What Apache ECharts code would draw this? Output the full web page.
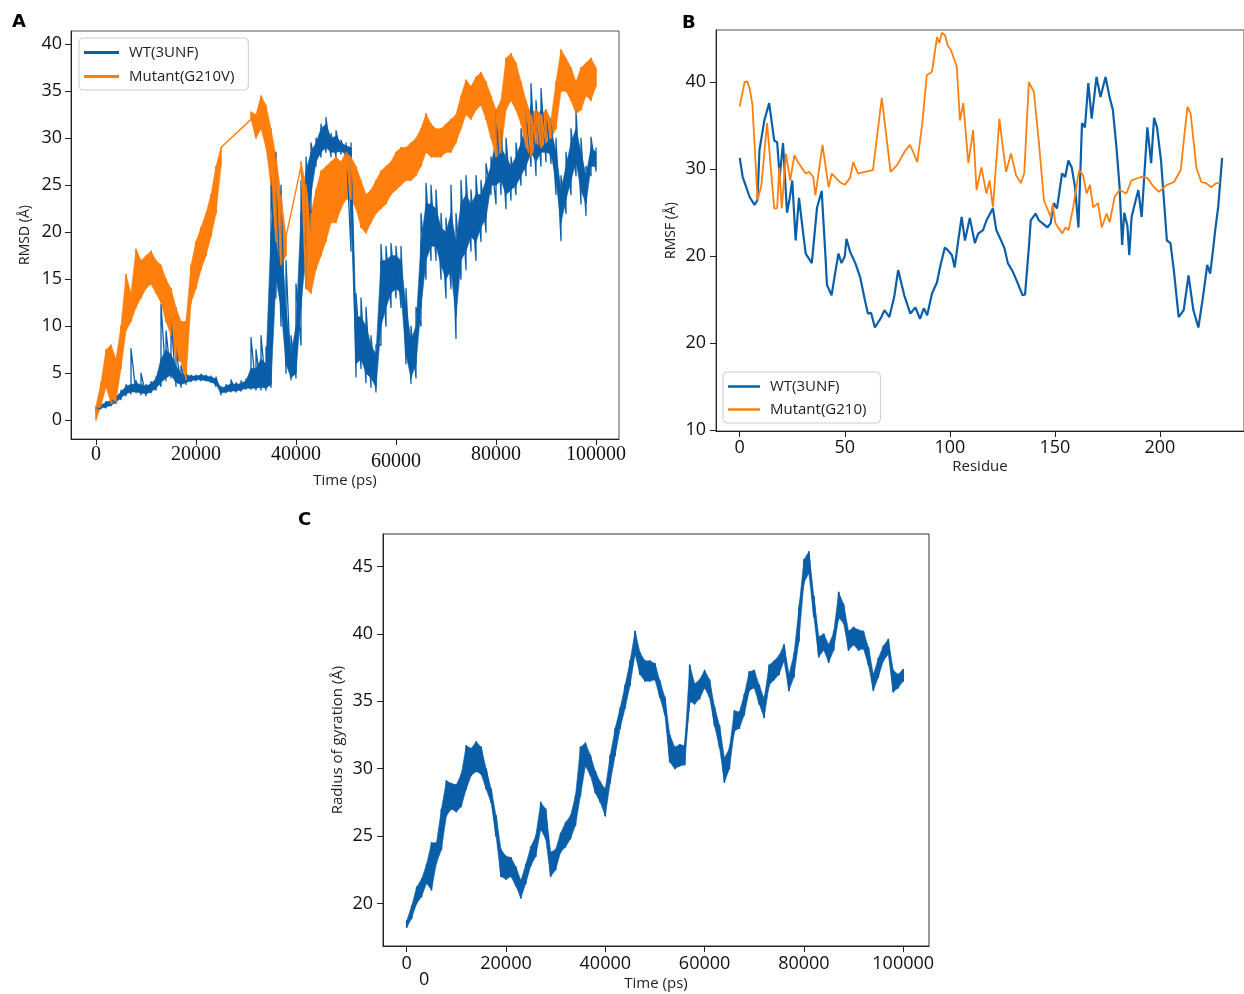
<!DOCTYPE html>
<html>
<head>
<meta charset="utf-8">
<script src="https://cdn.jsdelivr.net/npm/echarts@6.0.0/dist/echarts.min.js"></script>
<style>
  html, body { margin: 0; padding: 0; background: #fff; }
  #chart { width: 1244px; height: 994px; }
</style>
</head>
<body>
<div id="chart"></div>
<script>
// ---------- Panel A: RMSD vs time (1000-ps bins) ----------
// *Lo / *Hi  : min / max of the trace in each bin (spikes)
// *CoreLo/Hi : the densely filled part of the trace in each bin
const RMSD_STEP_PS = 1000;
const wtRmsdLo = [0.8,1.2,1.3,1.5,1.8,2.2,2.6,2.8,2.9,2.7, 2.6,2.9,3.2,3.6,4.2,4.5,3.6,3.5,3.8,4.1, 4.2,4.2,4.2,4.0,3.6,2.7,2.9,3.0,3.0,3.1, 3.3,3.3,3.2,3.2,3.2,3.5,13.0,10.0,5.0,4.3, 4.5,8.0,14.0,20.0,27.0,28.0,28.5,28.0,28.0,28.3, 28.0,18.0,4.6,5.5,4.0,3.5,3.0,8.0,10.0,12.0, 13.0,12.0,6.0,3.9,4.5,10.0,15.0,17.0,17.0,15.0, 13.0,14.0,8.7,15.0,16.0,18.0,17.0,19.0,20.0,24.0, 23.0,24.0,22.5,23.4,24.0,25.0,26.0,27.0,26.0,27.0, 27.5,27.3,24.0,19.1,22.0,24.0,26.0,23.0,21.8,26.0, 26.5];
const wtRmsdHi = [1.3,1.7,2.0,2.2,2.6,3.2,3.8,7.6,4.2,5.0, 3.8,4.1,4.6,12.3,9.5,10.8,7.8,5.8,5.0,4.8, 4.8,4.9,4.8,4.7,4.6,3.6,3.8,4.3,4.0,4.2, 4.4,8.8,7.5,9.0,7.8,26.0,28.5,25.0,17.0,9.0, 14.5,25.5,28.0,29.5,30.0,31.5,32.2,30.5,30.8,29.8, 29.5,29.5,13.5,13.0,12.0,9.0,8.0,18.7,18.5,18.8, 18.5,18.5,14.0,10.0,12.0,22.0,25.2,25.0,24.5,22.0, 21.5,25.0,22.0,25.5,26.0,24.5,26.0,25.5,27.3,28.0, 33.0,31.0,30.0,28.0,29.5,31.0,33.0,35.8,34.0,35.3, 33.0,32.0,30.0,26.0,28.5,31.0,33.0,30.0,27.0,30.1, 29.0];
const wtRmsdCoreLo = [0.9,1.3,1.4,1.6,1.9,2.4,2.8,3.0,3.0,2.9, 2.8,3.0,3.4,4.0,4.5,4.8,4.0,3.8,4.0,4.2, 4.3,4.3,4.2,4.1,3.8,2.9,3.0,3.1,3.1,3.2, 3.4,3.4,3.4,3.5,3.4,3.8,15.0,12.0,6.0,4.5, 5.0,12.0,18.0,24.0,27.5,28.5,29.0,28.5,28.5,28.6, 28.3,22.0,6.0,6.5,5.0,4.5,3.5,10.0,12.0,13.5, 14.0,13.5,7.0,4.5,6.0,12.0,17.0,18.5,18.5,16.5, 15.0,16.0,11.0,17.0,18.0,19.5,19.0,20.5,21.5,25.0, 25.0,25.5,24.0,24.5,25.0,26.0,27.0,28.5,27.5,28.5, 28.5,28.3,25.5,21.0,23.5,25.5,27.5,24.5,23.0,27.0, 27.0];
const wtRmsdCoreHi = [1.2,1.6,1.9,2.1,2.5,3.0,3.6,3.8,3.9,3.8, 3.6,3.9,4.4,6.5,7.5,7.0,5.8,5.0,4.8,4.7, 4.7,4.8,4.7,4.6,4.4,3.4,3.6,3.9,3.8,3.9, 4.2,5.5,5.5,6.5,6.0,20.0,26.0,20.0,12.0,7.0, 10.0,22.0,26.5,28.5,29.5,31.0,31.5,30.0,30.2,29.5, 29.2,29.0,11.0,11.0,10.0,8.0,7.0,17.0,17.0,17.5, 17.5,17.0,12.0,8.5,10.0,19.0,23.0,23.0,22.5,20.5, 20.0,22.0,19.0,23.0,24.0,23.0,24.0,24.0,25.5,27.0, 30.0,29.0,28.0,27.0,28.0,29.5,31.0,33.5,32.0,33.0, 31.5,31.0,28.5,24.5,27.0,29.5,31.0,28.5,26.0,29.0, 28.5];
const mutRmsdLo = [0.0,1.5,3.5,1.8,2.0,5.5,9.5,10.5,12.0,13.0, 14.0,14.5,13.5,12.5,10.5,9.0,6.5,6.2,4.3,12.5, 14.0,16.0,17.5,19.5,22.0,27.0,null,null,null,null, null,32.0,30.0,31.0,29.0,25.0,19.0,16.5,17.5,null, null,27.0,14.0,13.5,16.0,17.5,19.0,21.0,21.0,22.5, 23.5,23.5,22.5,20.5,19.9,21.0,22.0,22.5,23.0,24.0, 24.5,25.0,25.5,25.5,26.0,27.0,28.5,28.0,28.0,28.0, 28.5,28.5,29.5,31.0,32.5,32.0,33.0,33.5,32.0,30.0, 28.0,28.5,33.0,34.0,33.0,31.5,29.0,28.0,29.5,29.0, 29.5,30.0,31.0,35.0,35.0,34.0,32.6,33.0,34.5,34.0, 35.5];
const mutRmsdHi = [1.5,4.0,7.5,8.0,6.5,10.0,15.5,13.5,18.2,17.0, 17.5,18.0,17.0,16.5,15.0,14.0,12.0,10.5,10.5,16.5, 19.0,20.5,22.0,24.0,27.0,29.0,null,null,null,null, null,32.8,32.5,34.5,33.5,31.0,28.0,24.0,19.5,null, null,27.5,25.0,22.0,24.5,26.5,27.0,27.5,28.0,27.5, 28.5,28.0,27.0,25.5,24.0,24.5,25.5,26.5,27.0,27.5, 28.5,29.0,29.0,29.5,30.0,31.0,32.6,31.5,31.0,31.0, 31.5,32.0,32.5,34.5,36.2,35.5,36.5,37.0,36.0,34.5, 33.0,34.0,38.5,39.0,38.0,36.0,34.0,32.5,33.0,32.5, 33.0,32.0,36.0,39.4,38.5,37.5,36.0,37.5,38.0,38.5, 37.5];
const timeTicks = [0, 20000, 40000, 60000, 80000, 100000];
const rmsdTicks = [0, 5, 10, 15, 20, 25, 30, 35, 40];

// ---------- Panel B: RMSF per residue ----------
const wtResidue = [0,1.4,3,4.7,7,8.4,9.4,11.7,14,16.4, 17.8,19,20.6,22.5,23.8,25,26.6,28.2,30,31.4, 34.3,36.8,39,40.8,41.5,43.7,45.5,47,48.4,50, 50.8,52.5,55,57.3,59.6,61,62.5,64.3,67.2,68.9, 71.2,73.5,75.4,78.3,81.2,83.6,85.8,87.6,89.2,91.5, 93.9,95.3,97.6,99,101,102.3,104,105.6,107.2,109.5, 111.9,113.5,115.8,117.4,120.5,122.1,124.4,126,127.6,130, 132.3,134.6,135.8,137.6,138.5,140.8,142.4,144,146.4,148, 149.5,151,153.4,154.9,156.4,158,159.6,161.2,162.9,164.3, 165.9,167.5,169.8,171.7,174.1,176.1,177.6,179.3,180.8,182, 183,184.5,185.4,186.5,188,189.7,191.3,192.5,194,195.8, 197.2,198.6,200.5,201.9,203.3,205,206.6,208.9,211.3,213.6, 215.9,218.3,220.7,222.5,223.9,225.4,226.3,227.7,229.6];
const wtRmsf = [41.3,39.1,38.0,36.8,35.9,36.4,42.2,45.6,47.6,43.3, 43.1,39.1,43.0,35.0,36.7,38.7,31.8,36.7,33.0,30.3, 29.2,35.6,37.5,30.0,26.7,25.5,28.2,30.3,29.2,30.0, 32.0,30.5,29.2,27.6,24.9,23.4,23.5,21.8,22.9,23.8, 23.0,25.3,28.4,25.5,23.4,24.1,22.8,24.0,23.2,25.7, 27.0,28.7,31.0,30.7,30.1,28.7,31.8,34.5,31.8,34.4, 31.5,32.6,33.0,34.1,35.5,33.0,31.8,30.9,29.2,28.2, 26.9,25.5,25.6,31.0,34.1,34.9,34.1,33.8,33.3,33.8, 36.1,35.5,39.5,39.1,41.0,40.2,37.9,33.3,45.3,44.8, 49.9,45.8,50.6,48.3,50.6,48.2,46.8,42.5,37.9,31.3, 35.0,33.5,30.1,34.5,36.0,37.6,34.5,39.1,44.8,40.7, 45.9,44.8,41.0,36.4,31.8,31.5,28.4,23.0,23.8,27.8, 23.8,21.8,25.7,29.0,28.0,31.0,33.0,35.6,41.3];
const mutResidue = [0,2.3,3.5,4.7,6,8.5,10.3,13,14.5,16.4, 17.8,18.8,20,22,24,26,28,31.4,33,35, 36,36.8,39.4,42.3,43.8,47.7,50,52.5,54,56.3, 59.5,63.4,67.6,71.8,75,78.4,81,82.5,84.5,86.9, 89,91.5,93.9,95,96.2,97.7,99,100.5,103.3,104.8, 106.4,108.8,111.1,112.7,115,117.4,118.9,120.5,123.6,125.2, 126.8,129.1,131.5,133.8,135.4,137.6,140,142.4,144.8,148, 149,150.2,153.5,155,156.5,158.7,161.5,163.4,165.1,166.7, 168.2,170.5,172.3,174.6,176.1,178.4,180.8,184,186.4,191, 194,197.2,199.5,203.3,206.6,209.9,211.7,213.1,214.6,217.4, 219.7,222,224.4,226.8,228.6];
const mutRmsf = [47.2,50.0,50.1,49.3,47.5,36.4,38.2,45.3,41.0,35.5, 35.5,40.2,35.5,41.8,38.7,41.6,40.7,39.5,39.7,39.1, 37.0,36.8,42.8,37.9,39.5,38.5,38.2,39.0,40.8,39.5, 39.7,39.9,48.2,39.7,40.5,42.0,42.8,42.0,40.8,45.3, 50.8,51.2,55.2,54.5,55.7,55.4,54.2,53.7,51.8,45.6, 47.6,40.7,44.5,37.6,40.2,37.2,38.7,35.6,45.8,42.5, 39.7,41.8,39.3,38.4,39.5,50.0,48.9,43.0,36.4,34.5, 36.0,33.8,32.6,33.3,33.0,35.6,39.9,39.3,37.2,38.2, 35.6,36.1,33.3,34.9,33.9,36.8,37.6,37.2,38.7,39.1, 39.0,37.9,37.4,38.2,38.5,39.9,44.1,47.2,46.4,40.1, 38.5,38.4,37.9,38.4,38.4];
const residueTicks = [0, 50, 100, 150, 200];
const rmsfTickValues = [10, 20, 30, 40, 50];
const rmsfTickLabels = ['10', '20', '20', '30', '40'];

// ---------- Panel C: radius of gyration vs time (1000-ps bins) ----------
const RG_STEP_PS = 1000;
const rgLo = [18.2,18.9,20.0,20.5,21.5,21.0,23.0,24.0,26.5,27.0, 26.8,27.2,28.5,29.5,29.8,29.6,28.5,27.5,25.0,22.0, 21.8,22.0,21.3,20.4,21.5,22.8,23.5,25.5,24.8,22.0, 22.5,23.8,24.2,24.8,25.8,28.0,30.2,29.5,28.2,27.5, 26.5,29.0,31.0,33.0,34.5,36.2,38.5,37.0,36.5,36.5, 36.6,35.3,34.0,30.5,30.0,30.2,30.3,35.0,34.8,35.2, 36.0,35.3,33.2,31.6,29.0,30.0,32.8,33.0,34.0,35.8, 36.0,34.8,33.8,36.2,36.6,37.0,38.0,35.8,36.8,39.5, 43.8,44.5,41.3,38.3,38.8,37.9,38.8,41.2,40.8,38.8, 39.2,38.8,38.9,37.7,35.8,36.8,38.0,38.5,35.7,36.0, 36.5];
const rgHi = [18.7,19.8,21.2,21.8,22.9,24.5,24.5,27.0,29.1,28.9, 28.8,29.6,31.7,31.5,32.0,31.6,30.0,28.5,26.5,24.0, 23.5,23.4,22.7,21.7,22.9,24.2,25.0,27.5,27.0,23.8, 24.0,25.2,26.0,26.5,28.0,31.6,31.9,31.0,29.8,29.0, 28.5,31.0,33.0,34.5,36.2,38.0,40.2,38.6,38.0,38.0, 37.8,36.5,35.3,32.5,31.6,31.8,31.7,37.7,36.3,36.6, 37.3,36.6,34.6,33.2,30.8,31.5,34.3,34.2,35.5,37.2, 37.3,36.2,35.2,37.7,38.0,38.4,39.2,37.0,38.5,41.9, 45.5,46.1,42.8,39.8,40.0,39.2,40.1,43.1,42.2,40.2, 40.5,40.3,40.2,39.0,37.0,38.2,39.1,39.6,37.3,37.0, 37.4];
const rgTicks = [20, 25, 30, 35, 40, 45];

// ---------- helpers ----------
const BLUE = '#0b5fa9';
const ORANGE = '#ff7f0e';
const SANS = '"Open Sans", "DejaVu Sans", sans-serif';
const SERIF = '"Liberation Serif", "DejaVu Serif", serif';

// zig-zag trace: each bin drawn as a vertical stroke from its min to its max
function zigzag(lo, hi, step) {
  const out = [];
  lo.forEach((v, i) => {
    if (v == null) return;
    out.push([i * step, v]);
    out.push([i * step, hi[i]]);
  });
  return out;
}
function pairs(xs, ys) { return xs.map((x, i) => [x, ys[i]]); }

// Noisy trace = filled band (custom polygons through the axis scales) + zig-zag spikes on top
function noisyTrace(name, lo, hi, fillLo, fillHi, step, color, axisIdx, width) {
  const envelope = {
    type: 'custom', xAxisIndex: axisIdx, yAxisIndex: axisIdx, silent: true, clip: true,
    data: fillLo.map((v, i) => [i * step, v == null ? 0 : v, fillHi[i] == null ? 0 : fillHi[i]]),
    encode: { x: 0, y: [1, 2] },
    renderItem: (params, api) => {
      const i = params.dataIndex, j = i + 1;
      if (fillLo[i] == null || j >= fillLo.length || fillLo[j] == null) return null;
      const pts = [
        api.coord([i * step, fillLo[i]]), api.coord([i * step, fillHi[i]]),
        api.coord([j * step, fillHi[j]]), api.coord([j * step, fillLo[j]])
      ];
      return { type: 'polygon', shape: { points: pts },
               style: { fill: color, stroke: color, lineWidth: 0.6 } };
    }
  };
  const line = {
    type: 'line', name, xAxisIndex: axisIdx, yAxisIndex: axisIdx, symbol: 'none',
    itemStyle: { color }, silent: true,
    data: zigzag(lo, hi, step),
    lineStyle: { width, color, join: 'round' }
  };
  return [envelope, line];
}

function valueAxis(o) {
  return Object.assign({
    type: 'value',
    splitLine: { show: false },
    axisLine: { show: true, onZero: false, lineStyle: { color: '#222', width: 1 } },
    nameLocation: 'middle',
    nameTextStyle: { fontFamily: SANS, fontSize: 15, color: '#222' }
  }, o);
}
function ticks(values, extra) {
  return {
    axisTick: { show: true, length: 6, customValues: values, lineStyle: { color: '#222' } },
    axisLabel: Object.assign({ customValues: values, fontFamily: SANS, fontSize: 18, color: '#111',
                               formatter: v => String(v) }, extra || {})
  };
}

const chart = echarts.init(document.getElementById('chart'), null, { renderer: 'canvas' });

const option = {
  animation: false,
  backgroundColor: '#fff',
  grid: [
    { left: 71, top: 31, width: 548, height: 408, show: true, borderColor: '#555', borderWidth: 1, backgroundColor: '#fff' },
    { left: 716, top: 30, width: 540, height: 401, show: true, borderColor: '#555', borderWidth: 1, backgroundColor: '#fff' },
    { left: 383, top: 534, width: 546, height: 412, show: true, borderColor: '#333', borderWidth: 1, backgroundColor: '#fff' }
  ],
  xAxis: [
    valueAxis(Object.assign({
      gridIndex: 0, min: -5000, max: 104600,
      name: 'Time (ps)', nameGap: 30
    }, ticks(timeTicks, {
      margin: 6,
      formatter: v => (v === 60000 ? '{low|' + v + '}' : '{n|' + v + '}'),
      rich: {
        n: { fontFamily: SERIF, fontSize: 20, color: '#111' },
        low: { fontFamily: SERIF, fontSize: 20, color: '#111', padding: [7, 0, 0, 0] }
      }
    }))),
    valueAxis(Object.assign({
      gridIndex: 1, min: -11.3, max: 240,
      name: 'Residue', nameGap: 28
    }, ticks(residueTicks, { margin: 8 }))),
    valueAxis(Object.assign({
      gridIndex: 2, min: -4770, max: 105200,
      name: 'Time (ps)', nameGap: 30
    }, ticks(timeTicks, { margin: 9 })))
  ],
  yAxis: [
    valueAxis(Object.assign({
      gridIndex: 0, min: -2.0, max: 41.4,
      name: 'RMSD (Å)', nameGap: 39, nameRotate: 90,
      nameTextStyle: { fontFamily: SANS, fontSize: 14, color: '#222' }
    }, ticks(rmsdTicks, { margin: 9 }))),
    valueAxis(Object.assign({
      gridIndex: 1, min: 9.9, max: 56.0,
      name: 'RMSF (Å)', nameGap: 38, nameRotate: 90,
      nameTextStyle: { fontFamily: SANS, fontSize: 14, color: '#222' }
    }, ticks(rmsfTickValues, {
      margin: 10,
      formatter: v => rmsfTickLabels[rmsfTickValues.indexOf(v)]
    }))),
    valueAxis(Object.assign({
      gridIndex: 2, min: 16.84, max: 47.42,
      name: 'Radius of gyration (Å)', nameGap: 38, nameRotate: 90
    }, ticks(rgTicks, { margin: 10 })))
  ],
  legend: [
    {
      left: 79, top: 38, orient: 'vertical',
      data: ['WT(3UNF)', 'Mutant(G210V)'],
      icon: 'rect', itemWidth: 35, itemHeight: 3, itemGap: 9,
      padding: [7, 14, 6, 5],
      backgroundColor: 'rgba(255,255,255,0.85)', borderColor: '#ccc', borderWidth: 1, borderRadius: 4,
      textStyle: { fontFamily: SANS, fontSize: 15, color: '#222', lineHeight: 14, padding: [0, 0, 0, 5] }
    },
    {
      left: 723, top: 372, orient: 'vertical',
      data: ['WT(3UNF)', 'Mutant(G210)'],
      itemWidth: 32, itemHeight: 2.5, itemGap: 8,
      padding: [7, 14, 6, 5],
      icon: 'rect',
      backgroundColor: 'rgba(255,255,255,0.85)', borderColor: '#ccc', borderWidth: 1, borderRadius: 4,
      textStyle: { fontFamily: SANS, fontSize: 15, color: '#222', lineHeight: 14, padding: [0, 0, 0, 5] }
    }
  ],
  graphic: [
    { type: 'text', left: 12, top: 13, style: { text: 'A', font: '900 18px "DejaVu Sans"', fill: '#000' } },
    { type: 'text', left: 682, top: 14, style: { text: 'B', font: '900 18px "DejaVu Sans"', fill: '#000' } },
    { type: 'text', left: 298, top: 511, style: { text: 'C', font: '900 18px "DejaVu Sans"', fill: '#000' } },
    { type: 'text', left: 419, top: 971, style: { text: '0', font: '18px "Open Sans"', fill: '#111' } }
  ],
  series: [].concat(
    noisyTrace('WT(3UNF)', wtRmsdLo, wtRmsdHi, wtRmsdCoreLo, wtRmsdCoreHi, RMSD_STEP_PS, BLUE, 0, 1.3),
    noisyTrace('Mutant(G210V)', mutRmsdLo, mutRmsdHi, mutRmsdLo, mutRmsdHi, RMSD_STEP_PS, ORANGE, 0, 1.4),
    [
      {
        name: 'WT(3UNF)', type: 'line', xAxisIndex: 1, yAxisIndex: 1,
        data: pairs(wtResidue, wtRmsf),
        symbol: 'none', lineStyle: { width: 2.2, color: BLUE }, itemStyle: { color: BLUE }
      },
      {
        name: 'Mutant(G210)', type: 'line', xAxisIndex: 1, yAxisIndex: 1,
        data: pairs(mutResidue, mutRmsf),
        symbol: 'none', lineStyle: { width: 1.8, color: ORANGE }, itemStyle: { color: ORANGE }
      }
    ],
    noisyTrace('Rg', rgLo, rgHi, rgLo, rgHi, RG_STEP_PS, BLUE, 2, 1.6)
  )
};
chart.setOption(option);
</script>
</body>
</html>
